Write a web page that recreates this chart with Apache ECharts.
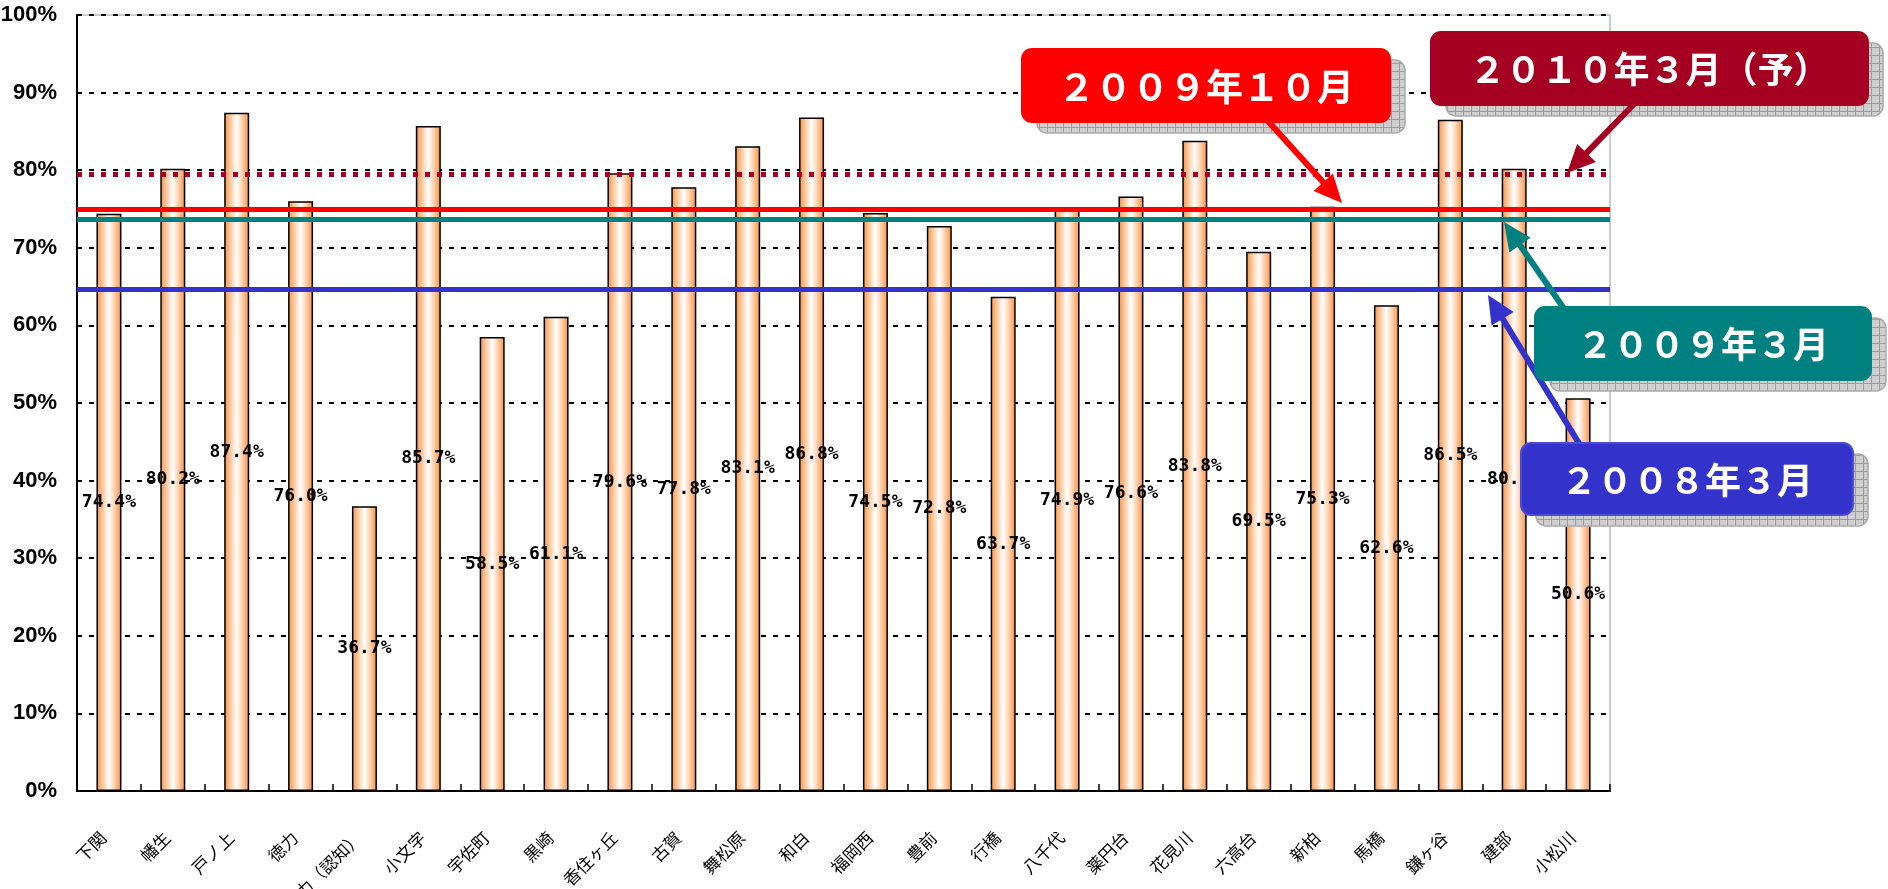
<!DOCTYPE html>
<html>
<head>
<meta charset="utf-8">
<script src="https://cdn.jsdelivr.net/npm/echarts@6/dist/echarts.min.js"></script>
<style>
  html, body { margin: 0; padding: 0; background: #fff; }
  #chart { width: 1888px; height: 889px; }
</style>
</head>
<body>
<div id="chart"></div>
<script>
// stations and their rates (%)
const categories = ['下関', '幡生', '戸ノ上', '徳力', '徳力（認知）', '小文字', '宇佐町', '黒崎', '香住ヶ丘', '古賀',
  '舞松原', '和白', '福岡西', '豊前', '行橋', '八千代', '薬円台', '花見川', '六高台', '新柏', '馬橋', '鎌ヶ谷', '建部', '小松川']
const rates = [74.4, 80.2, 87.4, 76.0, 36.7, 85.7, 58.5, 61.1, 79.6, 77.8,
  83.1, 86.8, 74.5, 72.8, 63.7, 74.9, 76.6, 83.8, 69.5, 75.3, 62.6, 86.5, 80.2, 50.6]

// average lines
const refNames = ['2008年3月', '2009年3月', '2009年10月', '2010年3月（予）']
const refValues = [64.7, 73.7, 75.0, 79.5]
const refLabels = ['２００８年３月', '２００９年３月', '２００９年１０月', '２０１０年３月（予）']

const yTicks = [0, 10, 20, 30, 40, 50, 60, 70, 80, 90, 100]

const refStyles = [
  { color: '#3333CC', width: 5, type: 'solid' },
  { color: '#008080', width: 5, type: 'solid' },
  { color: '#FF0000', width: 5, type: 'solid' },
  { color: '#A50021', width: 5, type: [5, 7] }
]

const chart = echarts.init(document.getElementById('chart'))

const barFill = new echarts.graphic.LinearGradient(0, 0, 1, 0, [
  { offset: 0, color: '#F79040' },
  { offset: 0.3, color: '#FFD5B5' },
  { offset: 0.5, color: '#FFFFFF' },
  { offset: 0.7, color: '#FFD5B5' },
  { offset: 1, color: '#F79040' }
])

chart.setOption({
  animation: false,
  backgroundColor: '#fff',
  grid: {
    left: 77, right: 278, top: 15, bottom: 98,
    show: true, borderColor: '#999', borderWidth: 1,
    outerBoundsMode: 'none'
  },
  xAxis: {
    type: 'category',
    data: categories,
    axisLine: { lineStyle: { color: '#000', width: 2 } },
    axisTick: { show: true, inside: true, length: 7, lineStyle: { color: '#000', width: 1.5 } },
    axisLabel: {
      interval: 0, rotate: 45, margin: 38,
      padding: [0, 8, 0, 0],
      fontSize: 17, color: '#000',
      fontFamily: '"Noto Sans CJK JP", sans-serif'
    }
  },
  yAxis: {
    type: 'value',
    min: yTicks[0], max: yTicks[yTicks.length - 1], interval: 10,
    axisLine: { show: true, lineStyle: { color: '#000', width: 2 } },
    axisTick: { show: false },
    axisLabel: {
      formatter: '{value}%', margin: 20,
      fontSize: 22, fontWeight: 'bold', color: '#000',
      fontFamily: '"Liberation Sans Narrow", "Liberation Sans", sans-serif'
    },
    splitLine: { lineStyle: { color: '#000', width: 2, type: [5, 7] } }
  },
  series: [{
    type: 'bar',
    data: rates,
    barWidth: 25,
    itemStyle: { color: barFill, borderColor: '#000', borderWidth: 1.5 },
    label: {
      show: true, position: 'inside',
      formatter: p => p.value.toFixed(1) + '%',
      color: '#000', fontSize: 18, fontWeight: 'bold',
      fontFamily: '"DejaVu Sans Mono", monospace'
    },
    markLine: {
      silent: true,
      symbol: 'none',
      label: { show: false },
      z: 5,
      data: refValues.map((v, i) => ({
        name: refNames[i], yAxis: v, lineStyle: refStyles[i]
      }))
    }
  }]
})

// annotation boxes + arrows
const pat = document.createElement('canvas')
pat.width = 8; pat.height = 8
const pc = pat.getContext('2d')
pc.fillStyle = '#cfcfcf'; pc.fillRect(0, 0, 8, 8)
pc.fillStyle = '#9c9c9c'; pc.fillRect(7, 0, 1, 8); pc.fillRect(0, 7, 8, 1)

const yOf = v => chart.convertToPixel({ yAxisIndex: 0 }, v)

const boxes = [
  { x: 1521, y: 443, w: 332, h: 72, color: '#3333CC', stroke: '#4A4AD8', from: [1580, 445], to: [1488, yOf(refValues[0]) + 6], fs: 36 },
  { x: 1535, y: 307, w: 336, h: 73, color: '#008080', stroke: '#008080', from: [1565, 310], to: [1504, yOf(refValues[1]) + 3], fs: 36 },
  { x: 1022, y: 49, w: 368, h: 73, color: '#FF0000', stroke: '#FF0000', from: [1267, 120], to: [1342, yOf(refValues[2]) - 6], fs: 37 },
  { x: 1431, y: 32, w: 437, h: 73, color: '#A50021', stroke: '#A50021', from: [1635, 103], to: [1567, yOf(refValues[3]) - 1], fs: 36 }
]

function arrow(b) {
  const [x1, y1] = b.from
  const [x2, y2] = b.to
  const len = Math.hypot(x2 - x1, y2 - y1)
  const ux = (x2 - x1) / len, uy = (y2 - y1) / len
  const nx = -uy, ny = ux
  const hl = 28, hw = 13
  const bx = x2 - ux * hl, by = y2 - uy * hl
  return [
    { type: 'line', z: 101, shape: { x1, y1, x2: bx + ux * 2, y2: by + uy * 2 }, style: { stroke: b.color, lineWidth: 6 } },
    { type: 'polygon', z: 101, shape: { points: [[x2, y2], [bx + nx * hw, by + ny * hw], [bx - nx * hw, by - ny * hw]] }, style: { fill: b.color } }
  ]
}

const graphics = []
boxes.forEach((b, i) => {
  graphics.push({
    type: 'rect', z: 100,
    shape: { x: b.x + 15, y: b.y + 11, width: b.w, height: b.h, r: 10 },
    style: { fill: { image: pat, repeat: 'repeat' }, stroke: '#aaa', lineWidth: 1.5 }
  })
  graphics.push(...arrow(b))
  graphics.push({
    type: 'rect', z: 102,
    shape: { x: b.x, y: b.y, width: b.w, height: b.h, r: 10 },
    style: { fill: b.color, stroke: b.stroke, lineWidth: 2 }
  })
  graphics.push({
    type: 'text', z: 103,
    x: b.x + b.w / 2, y: b.y + b.h / 2 + 1,
    style: {
      text: refLabels[i], fill: '#fff',
      font: 'bold ' + b.fs + 'px "Noto Sans CJK JP", sans-serif',
      align: 'center', verticalAlign: 'middle'
    }
  })
})

chart.setOption({ graphic: graphics })
</script>
</body>
</html>
